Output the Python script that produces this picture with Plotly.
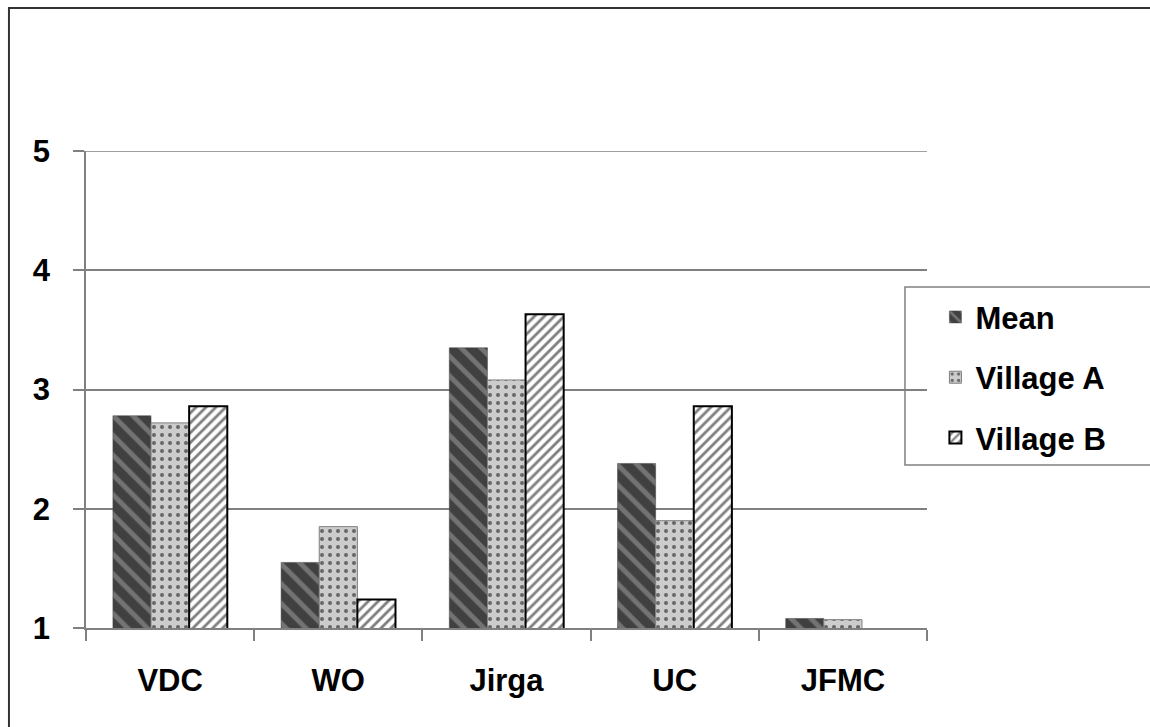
import plotly.graph_objects as go

categories = ["VDC", "WO", "Jirga", "UC", "JFMC"]
mean_vals = [2.78, 1.55, 3.35, 2.38, 1.08]
village_a = [2.72, 1.85, 3.08, 1.90, 1.07]
village_b = [2.86, 1.24, 3.63, 2.86, None]
y_ticks = [1, 2, 3, 4, 5]

FONT = "Liberation Sans, Arial, sans-serif"
GRID = "#808080"

fig = go.Figure()

fig.add_trace(go.Bar(
    name="Mean", x=categories, y=mean_vals, legendgroup="m",
    marker=dict(
        color="#404040",
        line=dict(color="#404040", width=0.5),
        pattern=dict(shape="\\", fgcolor="#a6a6a6", bgcolor="#404040",
                     size=14, solidity=0.35, fillmode="overlay"),
    ),
))
fig.add_trace(go.Bar(
    name="Village A", x=categories, y=village_a, legendgroup="a",
    marker=dict(
        color="#cccccc",
        line=dict(color="#7f7f7f", width=1),
        pattern=dict(shape=".", fgcolor="#000000", bgcolor="#cccccc",
                     size=8, solidity=0.2, fillmode="overlay"),
    ),
))
fig.add_trace(go.Bar(
    name="Village B", x=categories, y=village_b, legendgroup="b",
    marker=dict(
        color="#ffffff",
        line=dict(color="#000000", width=2),
        pattern=dict(shape="/", fgcolor="#000000", bgcolor="#ffffff",
                     size=7, solidity=0.4, fillmode="overlay"),
    ),
))

# top gridline at the upper end of the value range
fig.add_shape(type="line", xref="paper", yref="y",
              x0=-0.013, x1=1, y0=5, y1=5,
              line=dict(color=GRID, width=1.5), layer="below")

# outer frame and legend box
fig.add_shape(type="rect", xref="paper", yref="paper",
              x0=-0.0916, x1=2, y0=-1, y1=1.2998,
              line=dict(color="#333333", width=2), fillcolor="rgba(0,0,0,0)",
              layer="below")
fig.add_shape(type="rect", xref="paper", yref="paper",
              x0=0.9738, x1=2, y0=0.3417, y1=0.7149,
              line=dict(color=GRID, width=1.5), fillcolor="rgba(0,0,0,0)")

fig.update_layout(
    width=1150, height=727,
    margin=dict(l=86, r=223, t=151, b=99),
    paper_bgcolor="white", plot_bgcolor="white",
    barmode="group", bargap=0.32, bargroupgap=0,
    font=dict(family=FONT, size=30, color="black"),
    showlegend=True,
    legend=dict(
        x=1.01, xanchor="left", y=0.708, yanchor="top",
        bgcolor="rgba(0,0,0,0)", borderwidth=0,
        font=dict(family=FONT, size=31, color="black", weight="bold"),
        tracegroupgap=17, itemwidth=30,
    ),
    xaxis=dict(
        showline=True, linecolor=GRID, linewidth=1.5,
        ticks="outside", tickson="boundaries", ticklen=11,
        tickcolor=GRID, tickwidth=1.5,
        tickfont=dict(family=FONT, size=31, weight="bold"),
        ticklabelstandoff=24,
        showgrid=False,
    ),
    yaxis=dict(
        range=[1, 5], tickvals=y_ticks, ticktext=[str(v) for v in y_ticks],
        showline=True, linecolor=GRID, linewidth=1.5,
        ticks="outside", ticklen=11, tickcolor=GRID, tickwidth=1.5,
        showgrid=True, gridcolor=GRID, gridwidth=1.5,
        zeroline=False,
        tickfont=dict(family=FONT, size=31, weight="bold"),
        ticklabelstandoff=17,
    ),
)

fig.write_html("out.html")
